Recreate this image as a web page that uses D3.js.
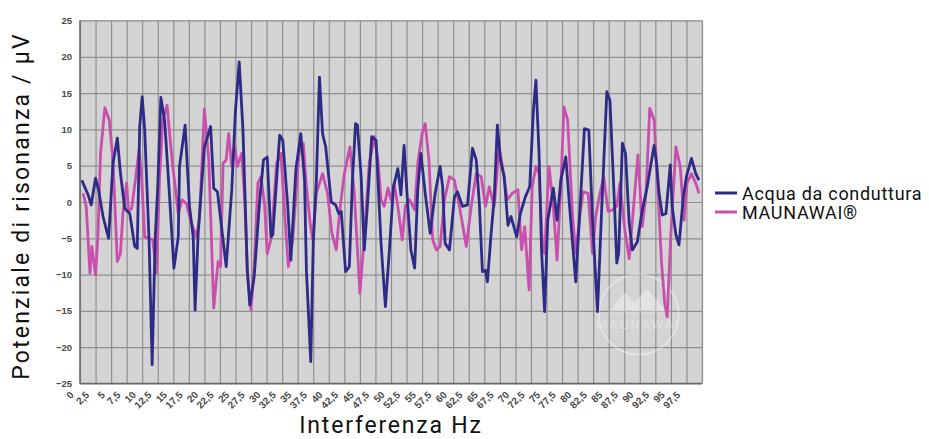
<!DOCTYPE html>
<html>
<head>
<meta charset="utf-8">
<script src="https://cdn.jsdelivr.net/npm/d3@7"></script>
<style>
  body { margin: 0; background: #fff; }
  svg { display: block; font-family: Roboto, "Liberation Sans", sans-serif; }
  .tick-lbl { font-family: "Liberation Sans", Arial, sans-serif; font-size: 9.5px; font-weight: bold; fill: #4a4a4a; }
</style>
</head>
<body>
<svg id="chart"></svg>
<script>
// Frequency ticks (Hz) and potential ticks (uV)
const xTickLabels = ['0','2,5','5','7,5','10','12,5','15','17,5','20','22,5','25','27,5','30','32,5','35','37,5',
  '40','42,5','45','47,5','50','52,5','55','57,5','60','62,5','65','67,5','70','72,5','75','77,5','80','82,5',
  '85','87,5','90','92,5','95','97,5'];
const yTicks = [-25, -20, -15, -10, -5, 0, 5, 10, 15, 20, 25];

// Series 1: tap water (vertices only)
const tapHz = [0.3,1.3,1.8,2.5,3,3.7,4.6,5.3,6,6.5,7.2,8,8.8,9.2,9.6,10,10.4,11.1,11.6,12.1,12.5,13,13.6,14.3,
  15.1,15.8,16,16.9,17.6,18.2,18.5,19,20,21,21.5,22.1,23.5,24.4,25,25.6,26.2,26.9,27.3,28,28.9,29.5,30.1,30.7,
  31,32.1,32.6,33.4,33.9,34.7,35.5,36.1,36.4,37.1,37.5,38,38.5,39,39.5,40.4,41.1,41.6,42,42.7,43.3,43.8,44.3,
  44.6,45.2,45.7,46.2,46.9,47.6,48.4,49.1,49.7,50.4,51.1,51.6,52.1,52.7,53.2,53.8,54.3,54.8,55.5,56.3,57.1,
  57.9,58.3,58.7,59.4,60.2,60.7,61.5,62.3,63.1,63.7,64.2,64.7,65.2,65.5,66.1,66.6,67.1,67.6,68.2,68.8,69.3,
  70.2,70.8,71.6,72.3,72.9,73.3,73.8,74.2,74.7,75.2,76.1,76.7,77.3,78.1,78.8,79.7,80.4,81.1,81.8,82.4,83.2,
  83.8,84.7,85.2,85.9,86.3,86.6,87.2,87.7,88.3,88.8,89.6,90.4,91.2,91.8,92.3,92.7,93.1,93.6,94.2,94.9,95.2,
  95.8,96.3,97,97.5,98.3,99,99.5];
const tapUV = [3.0,1.0,-0.4,3.3,1.6,-2,-5,5.3,8.8,4,-0.9,-1.6,-6.1,-6.4,10.4,14.5,9.9,-5.2,-22.4,-4.8,2.1,14.4,
  11.3,2.1,-9.1,-4.8,4.9,10.6,-0.6,-4.8,-14.9,-4.3,7.6,10.4,1.9,1.4,-8.9,1.7,12.7,19.3,9.9,-9.4,-14.2,-10.3,
  0.3,5.8,6.2,-4.8,-4.5,9.2,8.5,-0.6,-8.0,4.4,9.4,3.0,-9.4,-22,-5.7,3.0,17.2,9.4,7.6,0,-0.4,-1.6,-1.3,-9.6,
  -8.9,3.0,10.8,10.6,3.5,-6.6,-0.6,9.0,8.5,-5.7,-14.4,-7.1,2.1,4.6,1.0,7.8,-0.6,-6.6,-9.1,1.7,6.7,1.2,-4.3,
  1.2,4.9,2.1,-5.7,-6.6,0.7,1.4,-0.6,-0.4,7.4,5.8,-0.2,-9.6,-9.4,-11.0,-4.3,0.6,10.6,5.8,3.5,-3.2,-2.0,-4.8,
  -1.6,0.7,2.1,12.7,16.8,6.7,-6.6,-15.1,-2.5,1.9,-2.5,3.0,6.2,-1.6,-11,-0.6,10.1,9.9,-2.5,-15.1,-2.5,15.2,
  14.0,0.3,-8.4,-7.1,8.1,6.7,-2.9,-6.6,-5.5,-1.1,2.1,5.3,7.8,5.3,1.2,-1.8,-1.6,5.1,-0.6,-4.5,-5.9,0.7,3.5,
  6.0,3.9,3.0];

// Series 2: MAUNAWAI
const mauHz = [0.5,1,1.6,1.9,2.5,2.9,3.3,4,4.7,5.3,6,6.5,6.9,7.5,7.8,8.3,8.9,9.5,9.9,10.4,11,11.7,12.3,12.8,
  13.3,14,14.8,15.8,16.4,17.1,17.9,18.7,19.2,20,20.7,21,21.5,22.2,22.6,23,23.5,23.9,24.4,24.9,25.3,26,26.5,
  26.9,27.5,28,28.6,29.1,29.7,30.1,30.8,31.6,32.3,32.9,33.5,34.2,35.2,35.9,36.4,37,37.4,38,39,39.8,40.5,41.2,
  41.7,42.5,43.4,44.1,45,45.7,46.5,47.3,47.9,48.4,48.9,49.5,50,50.5,51.1,51.8,52.3,53,53.8,54.3,55,55.5,56.1,
  56.7,57.3,57.9,58.6,59.4,60.2,61,62.1,62.9,63.7,64.5,65.2,65.8,66.6,67.4,67.9,68.7,69.5,70.4,71,71.5,72.2,
  72.7,73.3,73.8,74.3,74.7,75.4,76.1,76.7,77.3,77.8,78.4,79.2,79.7,80.4,80.9,81.7,82.4,82.9,83.6,84.2,84.9,
  85.6,86.3,86.8,87.6,88.3,89,89.7,90.4,91,91.6,92.3,92.8,93.5,94,94.4,95,95.8,96.5,97.1,97.6,98.3,99,99.5];
const mauUV = [1.2,-0.6,-9.8,-6.1,-10,-4.3,6.7,13,11.3,5.8,-8.2,-7.1,-1.6,2.6,-1.3,-0.9,3.0,7.2,3.5,-4.8,-5,
  -5.2,-9.8,3.5,11.3,13.3,5.8,-1.6,0.3,-0.2,-2.9,-4.8,-2.5,12.8,5.8,-1.6,-14.6,-8.2,-8.9,5.3,5.8,9.4,4.9,7.6,
  4.9,6.7,0,-9.8,-14.9,-8.9,2.6,3.5,-0.6,-7.1,-4.8,5.3,6.7,-1.6,-8.9,-5.2,6.7,8.1,2.1,-2.9,-5.2,1.2,3.9,1.2,
  -4.3,-6.6,-1.6,3.9,7.6,1.2,-12.6,-4.8,5.3,9.0,5.8,0.3,-0.6,1.9,0.3,2.6,-0.6,-5.2,-0.6,0.3,-1.1,5.3,9.4,10.8,
  5.8,-5.2,-6.6,-6.1,0.3,3.5,3.0,-0.6,-6.1,-0.6,3.9,3.5,-0.6,2.1,-0.6,7.6,4.9,0.3,1.2,1.7,-6.6,-3.4,-12.1,2.1,
  4.9,3.9,-5.2,-7.1,4.9,-0.6,-8.0,2.1,13.1,11.3,-2.0,-7.1,-1.6,1.4,1.2,-7.1,-2.0,1.2,3.5,-1.3,-1.1,-0.6,2.6,
  -3.9,-7.8,-0.6,6.5,-3.4,1.2,12.9,11.3,3.5,-8.4,-13.9,-15.8,-4.3,7.6,4.9,-2.5,2.6,3.9,2.6,1.2];

const seriesNames = ['Acqua da conduttura', 'MAUNAWAI®'];
const seriesColors = ['#2d2b86', '#c84fae'];

const W = 929, H = 439;
const margin = {top: 20.5, right: 227, bottom: 55.5, left: 80};
const width = W - margin.left - margin.right;
const height = H - margin.top - margin.bottom;

const svg = d3.select('#chart').attr('width', W).attr('height', H);
const chart = svg.append('g').attr('transform', `translate(${margin.left},${margin.top})`);

const x = d3.scaleLinear().domain([0, 100]).range([0, width]);
const y = d3.scaleLinear().domain([-25, 25]).range([height, 0]);
const xTickVals = xTickLabels.map(s => +s.replace(',', '.'));

// plot background
chart.append('rect')
    .attr('width', width).attr('height', height)
    .attr('fill', '#d4d4d4')
    .attr('stroke', '#bdbdbd');

// grid lines
chart.append('g')
    .call(d3.axisBottom(x).tickValues(xTickVals.concat([100])).tickSize(height).tickFormat(''))
    .call(g => g.select('.domain').remove())
    .call(g => g.selectAll('line').attr('stroke', '#8f8f8f').attr('stroke-width', 1.2));
chart.append('g')
    .call(d3.axisLeft(y).tickValues(yTicks).tickSize(-width).tickFormat(''))
    .call(g => g.select('.domain').remove())
    .call(g => g.selectAll('line').attr('stroke', '#8f8f8f').attr('stroke-width', 1.2));

// axis lines
chart.append('line').attr('x1', 0).attr('x2', 0).attr('y1', 0).attr('y2', height)
    .attr('stroke', '#6a6a6a').attr('stroke-width', 1.5);
chart.append('line').attr('x1', 0).attr('x2', width).attr('y1', height).attr('y2', height)
    .attr('stroke', '#6a6a6a').attr('stroke-width', 1.5);

// y tick labels
chart.append('g')
    .call(d3.axisLeft(y).tickValues(yTicks).tickSize(0).tickPadding(8))
    .call(g => g.select('.domain').remove())
    .call(g => g.selectAll('text').attr('class', 'tick-lbl'));

// x tick labels (rotated)
chart.append('g')
    .attr('transform', `translate(0,${height})`)
    .call(d3.axisBottom(x).tickValues(xTickVals).tickSize(0).tickFormat((d, i) => xTickLabels[i]))
    .call(g => g.select('.domain').remove())
    .call(g => g.selectAll('text')
        .attr('class', 'tick-lbl')
        .style('font-size', '10px')
        .style('text-anchor', 'end')
        .attr('dx', 0).attr('dy', 0).attr('y', 0)
        .attr('transform', 'translate(-6,12) rotate(-45)'));

// watermark
const wm = chart.append('g').attr('transform', `translate(${x(89.8)},${y(-15.5)})`).attr('opacity', 0.35);
wm.append('circle').attr('r', 40).attr('fill', 'none').attr('stroke', '#fff').attr('stroke-width', 2);
wm.append('path').attr('d', 'M-30,-2 L-14,-22 L-4,-12 L8,-26 L30,-2 Z').attr('fill', '#fff');
wm.append('text').attr('y', 14).attr('text-anchor', 'middle').attr('fill', '#fff')
    .attr('font-size', 13).attr('letter-spacing', 2).text('MAUNAWAI');

// lines
const line = d3.line().x(d => x(d[0])).y(d => y(d[1]));
const series = [d3.zip(tapHz, tapUV), d3.zip(mauHz, mauUV)];
[1, 0].forEach(i => {
  chart.append('path')
      .datum(series[i])
      .attr('fill', 'none')
      .attr('stroke', seriesColors[i])
      .attr('stroke-width', 2.8)
      .attr('stroke-linejoin', 'round')
      .attr('d', line);
});

// axis titles
svg.append('text')
    .attr('transform', `translate(29,${margin.top + height / 2 + 4}) rotate(-90)`)
    .attr('text-anchor', 'middle')
    .attr('font-size', 23).attr('letter-spacing', 2.2).attr('fill', '#111')
    .text('Potenziale di risonanza / μV');
svg.append('text')
    .attr('x', 391).attr('y', 433)
    .attr('text-anchor', 'middle')
    .attr('font-size', 23).attr('letter-spacing', 1.8).attr('fill', '#111')
    .text('Interferenza Hz');

// legend
const legend = svg.append('g').attr('transform', 'translate(715,193)');
seriesNames.forEach((name, i) => {
  const row = legend.append('g').attr('transform', `translate(0,${i * 19})`);
  row.append('line').attr('x1', 0).attr('x2', 22).attr('stroke', seriesColors[i]).attr('stroke-width', 3);
  row.append('text').attr('x', 27).attr('y', 6.5)
      .attr('font-size', 18).attr('letter-spacing', 0.7).attr('fill', '#111')
      .text(name);
});
</script>
</body>
</html>
